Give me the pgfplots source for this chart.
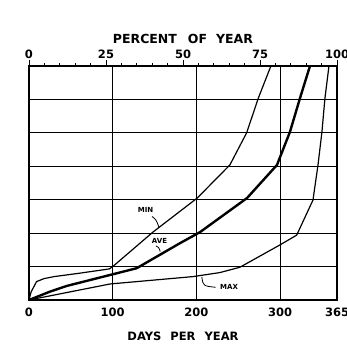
\documentclass[border=0pt]{standalone}
\usepackage{pgfplots}
\pgfplotsset{compat=1.18}
\usepackage{fontspec}
\setmainfont{DejaVu Sans}
\begin{document}
\begin{tikzpicture}
\begin{axis}[name=main, at={(0pt,0pt)}, anchor=south west, scale only axis,
  width=308pt, height=234pt,
  xmin=0, xmax=368, ymin=0, ymax=7,
  xtick={0,100,200,300,368}, xticklabels={0,100,200,300,365},
  ytick={0,1,...,7}, yticklabels={},
  major tick length=0pt,
  grid=major, major grid style={black, line width=0.9pt},
  axis line style={line width=1.4pt},
  xticklabel style={font=\fontsize{11.5}{12}\selectfont\bfseries, anchor=base, yshift=-16.5pt},
  xlabel={DAYS\hspace{9pt}PER\hspace{9pt}YEAR},
  xlabel style={font=\fontsize{11.5}{12}\selectfont\bfseries, at={(axis description cs:0.5,0)}, anchor=center, yshift=-36.7pt},
  clip=false]
\addplot[black, line width=1.2pt, line join=round] coordinates {
 (0,0) (2.5,0.24) (9,0.55) (18,0.64) (30,0.70) (60,0.80) (96,0.93) (101,1.02)
 (148,2.03) (201,3.05) (240,4.04) (260,5.0) (274,6.04) (289,7.0)};
\addplot[black, line width=2.4pt, line join=round] coordinates {
 (0,0) (25,0.25) (45,0.42) (97,0.75) (128.6,0.95) (180.4,1.70) (204.3,2.03)
 (260.5,3.05) (296.3,4.04) (311.8,5.03) (323.8,6.04) (335.7,7.0)};
\addplot[black, line width=1.2pt, line join=round] coordinates {
 (0,0) (97,0.48) (196,0.70) (228,0.82) (252,0.98) (300,1.65) (319.8,1.94)
 (339.3,2.99) (345.3,4.04) (350,5.03) (353.6,6.04) (358.4,7.0)};
\node[font=\fontsize{7}{7}\selectfont\bfseries] at (axis cs:139.2,2.69) {MIN};
\node[font=\fontsize{7}{7}\selectfont\bfseries] at (axis cs:155.9,1.76) {AVE};
\node[font=\fontsize{7}{7}\selectfont\bfseries] at (axis cs:239,0.40) {MAX};
\draw[line width=0.8pt] (axis cs:147,2.50) .. controls (axis cs:152,2.40) .. (axis cs:155.5,2.16);
\draw[line width=0.8pt] (axis cs:151.7,1.62) .. controls (axis cs:155,1.58) .. (axis cs:156.8,1.45);
\draw[line width=0.8pt] (axis cs:206.5,0.69) .. controls (axis cs:208,0.42) .. (axis cs:223,0.38);
\end{axis}
\begin{axis}[at={(0pt,0pt)}, anchor=south west, scale only axis,
  width=308pt, height=234pt,
  xmin=0, xmax=100, ymin=0, ymax=1,
  axis x line*=top, axis y line=none,
  xtick={0,25,50,75,100}, minor xtick={5,10,...,95},
  tick align=outside, major tick length=6pt, minor tick length=2.5pt,
  tick style={black, line width=0.9pt},
  axis line style={line width=2pt},
  xticklabels={0,25,50,75,100},
  xticklabel style={font=\fontsize{11.5}{12}\selectfont\bfseries, anchor=base, yshift=1.7pt},
  xlabel={PERCENT\hspace{11pt}OF\hspace{9pt}YEAR},
  xlabel style={font=\fontsize{12.5}{13}\selectfont\bfseries, at={(axis description cs:0.5,1)}, anchor=center, yshift=27.2pt}]
\end{axis}
\pgfresetboundingbox
\path[use as bounding box] (-29pt,-50pt) rectangle (318pt,300pt);
\end{tikzpicture}
\end{document}
